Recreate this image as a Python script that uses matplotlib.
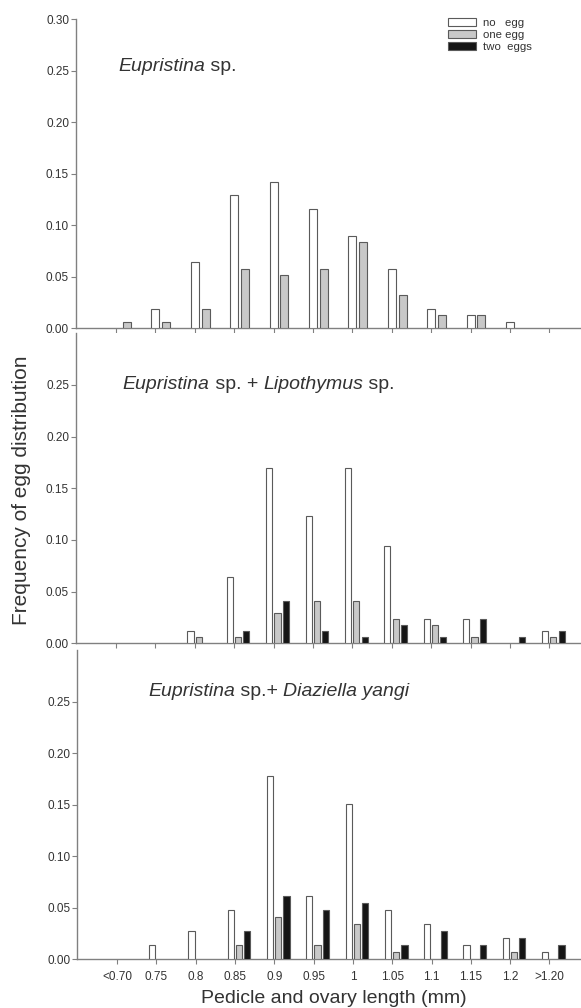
import numpy as np
import matplotlib
matplotlib.use('Agg')
import matplotlib.pyplot as plt
from matplotlib.patches import Patch
from matplotlib.ticker import FormatStrFormatter

plt.rcParams['font.family'] = ['Liberation Sans', 'DejaVu Sans']

categories = ['<0.70', '0.75', '0.8', '0.85', '0.9', '0.95', '1', '1.05', '1.1', '1.15', '1.2', '>1.20']

# panel 1: Eupristina sp.
p1_no = [0, 0.019, 0.064, 0.129, 0.142, 0.116, 0.090, 0.058, 0.019, 0.013, 0.0065, 0]
p1_one = [0.0065, 0.0065, 0.019, 0.058, 0.052, 0.058, 0.084, 0.032, 0.013, 0.013, 0, 0]
p1_two = [0, 0, 0, 0, 0, 0, 0, 0, 0, 0, 0, 0]

# panel 2: Eupristina sp. + Lipothymus sp.
p2_no = [0, 0, 0.0117, 0.064, 0.170, 0.123, 0.170, 0.094, 0.0235, 0.0235, 0, 0.0117]
p2_one = [0, 0, 0.0058, 0.0058, 0.029, 0.041, 0.041, 0.0235, 0.0175, 0.0058, 0, 0.0058]
p2_two = [0, 0, 0, 0.0117, 0.041, 0.0117, 0.0058, 0.0175, 0.0058, 0.0235, 0.0058, 0.0117]

# panel 3: Eupristina sp. + Diaziella yangi
p3_no = [0, 0.0137, 0.0274, 0.048, 0.178, 0.0616, 0.151, 0.048, 0.0342, 0.0137, 0.0205, 0.0068]
p3_one = [0, 0, 0, 0.0137, 0.041, 0.0137, 0.0342, 0.0068, 0, 0, 0.0068, 0]
p3_two = [0, 0, 0, 0.0274, 0.0616, 0.048, 0.0548, 0.0137, 0.0274, 0.0137, 0.0205, 0.0137]

series_labels = ['no   egg', 'one egg', 'two  eggs']
fills = ['white', '#c8c8c8', '#151515']
edge = '#5a5a5a'
axis_col = '#808080'
text_col = '#333333'

W, H = 581, 1008
fig = plt.figure(figsize=(W / 100, H / 100), dpi=100)

def px_axes(left, top, right, bottom):
    return fig.add_axes([left / W, 1 - bottom / H, (right - left) / W, (bottom - top) / H])

ax1 = px_axes(76, 19.3, 580.5, 328.3)
ax2 = px_axes(76, 333.3, 580.5, 643.3)
ax3 = px_axes(77.3, 650, 580.5, 959.3)

x = np.arange(len(categories))

def draw(ax, series, offsets, width):
    for vals, off, fc in zip(series, offsets, fills):
        vals = np.array(vals)
        keep = vals > 0
        ax.bar(x[keep] + off, vals[keep], width=width, color=fc,
               edgecolor=edge, linewidth=0.8, zorder=3)

draw(ax1, [p1_no, p1_one, p1_two], [0.0, 0.275, 0.55], 0.2)
draw(ax2, [p2_no, p2_one, p2_two], [-0.11, 0.10, 0.31], 0.155)
draw(ax3, [p3_no, p3_one, p3_two], [-0.11, 0.10, 0.31], 0.16)

for i, ax in enumerate([ax1, ax2, ax3]):
    ax.set_xlim(-1.015, 11.79)
    ax.set_ylim(0, 0.30)
    for s in ['top', 'right']:
        ax.spines[s].set_visible(False)
    for s in ['left', 'bottom']:
        ax.spines[s].set_color(axis_col)
        ax.spines[s].set_linewidth(1.0)
    ax.set_xticks(x)
    ax.tick_params(axis='both', direction='out', length=3.5, width=0.8,
                   color=axis_col, labelsize=8.5, labelcolor=text_col, pad=1.5)
    ax.tick_params(axis='x', pad=5)
    if i == 0:
        ax.set_yticks(np.arange(0, 0.31, 0.05))
    else:
        ax.set_yticks(np.arange(0, 0.26, 0.05))
    ax.yaxis.set_major_formatter(FormatStrFormatter('%.2f'))
    if i < 2:
        ax.set_xticklabels([])
    else:
        ax.set_xticklabels(categories)

# panel titles: pieces placed one after another, italic for genus names
def title(ax, xpos, ypos, parts):
    r = fig.canvas.get_renderer()
    for s, st in parts:
        t = ax.text(xpos, ypos, s, fontsize=14, color=text_col, va='center', style=st)
        bb = t.get_window_extent(r)
        xpos = ax.transData.inverted().transform((bb.x1, 0))[0]

fig.canvas.draw()
title(ax1, 0.06, 0.254, [('Eupristina', 'italic'), (' sp.', 'normal')])
title(ax2, 0.17, 0.25, [('Eupristina', 'italic'), (' sp. + ', 'normal'),
                        ('Lipothymus', 'italic'), (' sp.', 'normal')])
title(ax3, 0.79, 0.26, [('Eupristina', 'italic'), (' sp.+ ', 'normal'),
                        ('Diaziella yangi', 'italic')])

handles = [Patch(facecolor=fc, edgecolor=edge, linewidth=0.8) for fc in fills]
ax1.legend(handles, series_labels, loc='upper left', bbox_to_anchor=(448 / W, 1 - 17.5 / H),
           bbox_transform=fig.transFigure, frameon=False, fontsize=8.2, borderpad=0,
           borderaxespad=0, handlelength=2.45, handleheight=0.7, handletextpad=0.59,
           labelspacing=0.18, labelcolor=text_col)

fig.text(334 / W, 1 - 1003 / H, 'Pedicle and ovary length (mm)', fontsize=14,
         color=text_col, ha='center', va='baseline')
fig.text(22 / W, 1 - 490 / H, 'Frequency of egg distribution', fontsize=15,
         color=text_col, ha='center', va='center', rotation=90)

fig.savefig('out.png', dpi=100)
